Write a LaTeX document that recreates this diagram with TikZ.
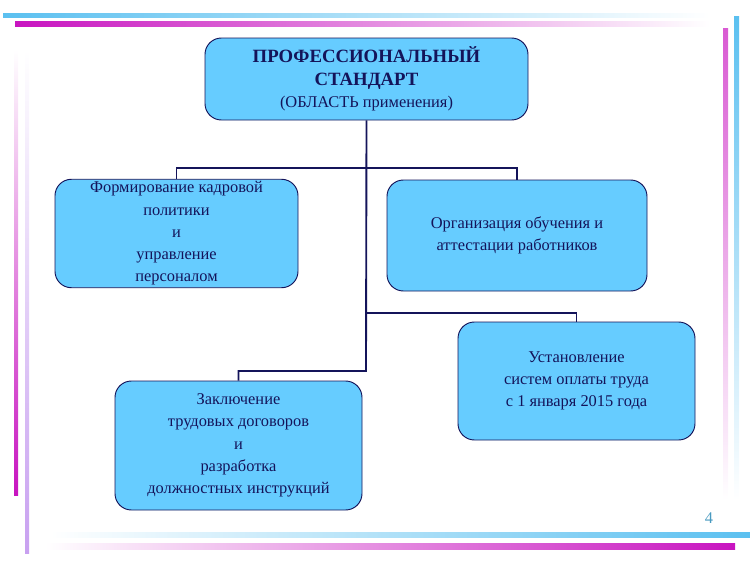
\documentclass[tikz,border=0pt]{standalone}
\usepackage{fontspec}
\setmainfont{Liberation Serif}
\usetikzlibrary{positioning}
\definecolor{boxblue}{HTML}{66CCFF}
\definecolor{navy}{HTML}{14145A}
\definecolor{barblue}{HTML}{5BC0F0}
\definecolor{barmag}{HTML}{C814C0}
\definecolor{barlil}{HTML}{C8A0F0}
\tikzset{
  block/.style={rectangle,rounded corners=14pt,draw=navy,thick,fill=boxblue,
    text=navy,align=center,font=\fontsize{14}{19}\selectfont,inner sep=2pt},
  link/.style={draw=navy,line width=1.6pt},
}
\begin{document}
\begin{tikzpicture}[x=0.03cm,y=-0.03cm]
\useasboundingbox (0,0) rectangle (750,561);
% decorative bars
\shade[left color=barblue,right color=white] (3,13) rectangle (710,17);
\shade[left color=barmag,right color=white] (15,21) rectangle (710,26);
\shade[top color=white,bottom color=barmag] (14,50) rectangle (18,495);
\shade[top color=white,bottom color=barlil] (25,50) rectangle (29,553);
\shade[top color=barmag!70,bottom color=white] (723,28) rectangle (728,500);
\shade[top color=barblue,bottom color=white] (734,16) rectangle (739,500);
\shade[left color=white,right color=barblue] (50,532) rectangle (750,537);
\shade[left color=white,right color=barmag] (45,543) rectangle (735,549);
\node[text=barblue!80!black,font=\fontsize{14}{16}\selectfont] (page) at (709,518) {4};
% boxes
\node[block,minimum width=323*0.03cm,minimum height=82*0.03cm] (std) at (366.5,79)
  {\fontsize{16}{24}\selectfont\textbf{ПРОФЕССИОНАЛЬНЫЙ}\\
   \fontsize{16}{24}\selectfont\textbf{СТАНДАРТ}\\(ОБЛАСТЬ применения)};
\node[block,minimum width=243*0.03cm,minimum height=107*0.03cm] (hr) at (176.5,233.5)
  {Формирование кадровой\\политики\\и\\управление\\персоналом};
\node[block,minimum width=260*0.03cm,minimum height=111*0.03cm] (edu) at (517,235.5)
  {Организация обучения и\\аттестации работников};
\node[block,minimum width=237*0.03cm,minimum height=118*0.03cm] (pay) at (576.5,381)
  {Установление\\систем оплаты труда\\с 1 января 2015 года};
\node[block,minimum width=247*0.03cm,minimum height=129*0.03cm] (job) at (238.5,445.5)
  {Заключение\\трудовых договоров\\и\\разработка\\должностных инструкций};
% connectors
\coordinate (trunk) at (366,371);
\draw[link] (std.south) -- (trunk) -| (job.north);
\draw[link] (hr.north) |- (366,168) -| (edu.north);
\draw[link] (366,313) -| (pay.north);
\end{tikzpicture}
\end{document}
